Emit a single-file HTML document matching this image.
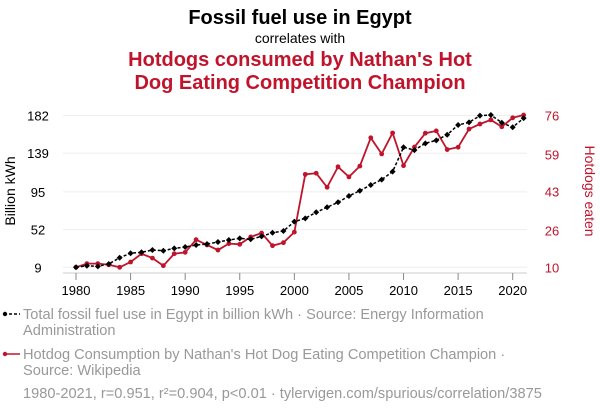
<!DOCTYPE html>
<html><head><meta charset="utf-8"><style>
body{margin:0;background:#fff;width:600px;height:414px;overflow:hidden;font-family:"Liberation Sans",sans-serif}
text{font-family:"Liberation Sans",sans-serif}
</style></head><body>
<svg id="c" width="600" height="414" viewBox="0 0 600 414">
<text x="300" y="24" text-anchor="middle" font-size="20" font-weight="bold" fill="#000">Fossil fuel use in Egypt</text>
<text x="300" y="43" text-anchor="middle" font-size="14" fill="#000">correlates with</text>
<text x="300" y="66" text-anchor="middle" font-size="20" font-weight="bold" fill="#c0142c">Hotdogs consumed by Nathan's Hot</text>
<text x="300" y="89" text-anchor="middle" font-size="20" font-weight="bold" fill="#c0142c">Dog Eating Competition Champion</text>
<text transform="translate(15,191) rotate(-90)" text-anchor="middle" font-size="14" fill="#000">Billion kWh</text>
<text transform="translate(585,191) rotate(90)" text-anchor="middle" font-size="14" fill="#c0142c">Hotdogs eaten</text>
<g id="grid"></g><g id="axes"></g><g id="series"></g>
<g>
<line x1="4" y1="314" x2="20" y2="314" stroke="#000" stroke-width="1.5" stroke-dasharray="3,2"/>
<circle cx="5" cy="314" r="2.2" fill="#000"/>
<text x="23" y="319" font-size="14.6" fill="#999">Total fossil fuel use in Egypt in billion kWh · Source: Energy Information</text>
<text x="23" y="335" font-size="14.6" fill="#999">Administration</text>
<line x1="4" y1="354" x2="20" y2="354" stroke="#c0142c" stroke-width="1.5"/>
<circle cx="5" cy="354" r="2.2" fill="#c0142c"/>
<text x="23" y="359" font-size="14.6" fill="#999">Hotdog Consumption by Nathan's Hot Dog Eating Competition Champion ·</text>
<text x="23" y="375" font-size="14.6" fill="#999">Source: Wikipedia</text>
<text x="23" y="398" font-size="14.6" fill="#999">1980-2021, r=0.951, r²=0.904, p&lt;0.01 · tylervigen.com/spurious/correlation/3875</text>
</g>
</svg>
<script>
const years=[1980,1981,1982,1983,1984,1985,1986,1987,1988,1989,1990,1991,1992,1993,1994,1995,1996,1997,1998,1999,2000,2001,2002,2003,2004,2005,2006,2007,2008,2009,2010,2011,2012,2013,2014,2015,2016,2017,2018,2019,2020,2021];
const fossil=[9,10.8,10.1,12.8,19.9,25,26.1,28.7,27.9,30.6,32.1,34.4,35.5,37.8,40.1,42,40.9,44.3,48.4,50.4,61,64.8,71.7,77.4,83.1,90.3,96.3,102.8,108.9,118,145.8,142.6,150.3,153.7,160.1,171.2,174.2,181.8,182.6,173.8,168.6,179];
const hotdogs=[10,11.6,11.6,11.1,10,12.3,15.9,14,10.7,15.9,16.5,22,19.7,17.5,20.3,20,23.2,24.9,19.4,20.7,25.3,50.4,50.9,44.8,53.7,49.3,54,66.3,59.3,68.4,54.2,62.3,68.3,69.3,61.2,62.2,70.1,72.3,74.1,71.1,75,76.2];
const leftTicks=[9,52,95,139,182];
const leftLabels=["9","52","95","139","182"];
const rightTicks=[10,26,43,59,76];
const xTicks=[1980,1985,1990,1995,2000,2005,2010,2015,2020];
const NS="http://www.w3.org/2000/svg";
const X0=76,X1=512.7,YB=267.3,YT=115.5;
function xs(y){return X0+(y-1980)*(X1-X0)/40;}
function yl(v){return YB-(v-9)*(YB-YT)/173;}
function yr(v){return YB-(v-10)*(YB-YT)/66;}
function mk(t,a,p){const e=document.createElementNS(NS,t);for(const k in a)e.setAttribute(k,a[k]);p.appendChild(e);return e;}
const grid=document.getElementById('grid'),axes=document.getElementById('axes'),ser=document.getElementById('series');
leftTicks.forEach((v,i)=>{
  const g=mk('line',{x1:63,x2:527,y1:yl(v),y2:yl(v),stroke:'#eee','stroke-width':1},grid);
  
  
  const t=mk('text',{x:38,y:yl(v)+5,'text-anchor':'middle','font-size':13,fill:'#000'},axes);
  t.textContent=leftLabels[i];
  
  
});
rightTicks.forEach(v=>{
  const t=mk('text',{x:552,y:yr(v)+5,'text-anchor':'middle','font-size':13,fill:'#c0142c'},axes);
  t.textContent=v;
  
  
});
const ax=mk('line',{x1:63,x2:527,y1:273,y2:273,stroke:'#ccc','stroke-width':1},axes);


xTicks.forEach(y=>{
  const l=mk('line',{x1:xs(y),x2:xs(y),y1:273,y2:280,stroke:'#888','stroke-width':1},axes);
  
  
  const t=mk('text',{x:xs(y),y:295,'text-anchor':'middle','font-size':13,fill:'#000'},axes);
  t.textContent=y;
  
  
});
const rp=mk('polyline',{points:years.map((y,i)=>xs(y)+','+yr(hotdogs[i])).join(' '),fill:'none',stroke:'#c0142c','stroke-width':1.8},ser);


years.forEach((y,i)=>{
  const c=mk('circle',{cx:xs(y),cy:yr(hotdogs[i]),r:2.4,fill:'#c0142c'},ser);
  
  
});
const bp=mk('polyline',{points:years.map((y,i)=>xs(y)+','+yl(fossil[i])).join(' '),fill:'none',stroke:'#000','stroke-width':1.5,'stroke-dasharray':'3,2'},ser);


years.forEach((y,i)=>{
  const cx=xs(y),cy=yl(fossil[i]);
  const d=mk('polygon',{points:`${cx},${cy-3} ${cx+3},${cy} ${cx},${cy+3} ${cx-3},${cy}`,fill:'#000'},ser);
  
  
});
</script>
</body></html>
